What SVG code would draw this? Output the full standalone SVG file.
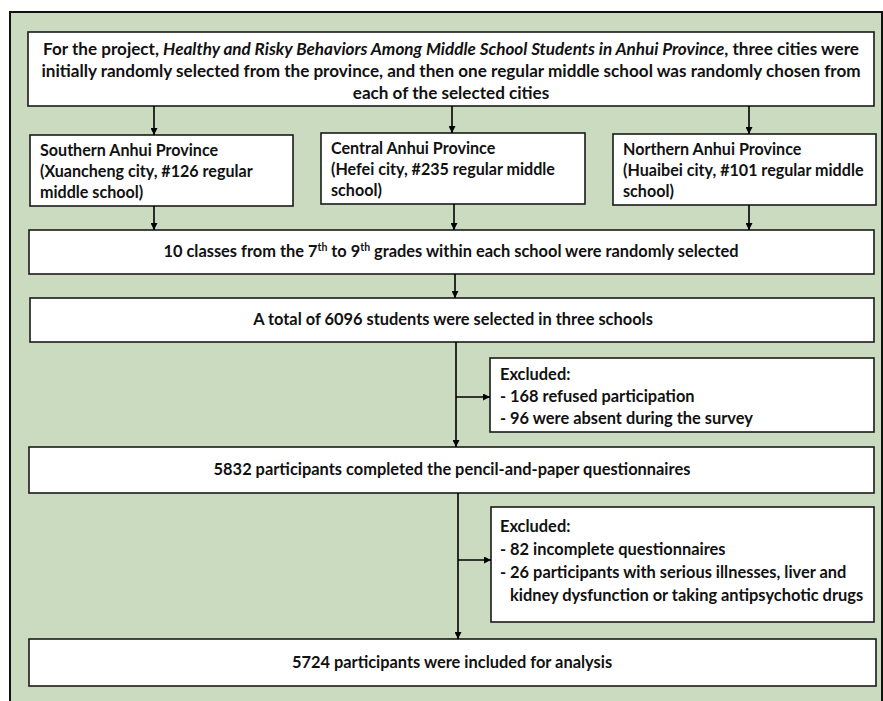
<svg xmlns="http://www.w3.org/2000/svg" width="883" height="701" viewBox="0 0 883 701">
<defs>
<marker id="ah" viewBox="0 0 8 8" refX="8" refY="4" markerWidth="7" markerHeight="7" markerUnits="userSpaceOnUse" orient="auto">
<path d="M0,0 L8,4 L0,8 Z" fill="#000"/>
</marker>
<style>
.bg{fill:#cbdbc0;stroke:#111;stroke-width:2}
.box{fill:#fff;stroke:#1a1a1a;stroke-width:1.6}
.t{font-family:Lato,"Open Sans","Liberation Sans",sans-serif;font-weight:bold;font-size:16.4px;fill:#111}
.top{font-size:17.1px}
.p{font-size:16.1px}
.c{text-anchor:middle}
.con line{stroke:#000;stroke-width:1.6;marker-end:url(#ah)}
</style>
</defs>
<rect class="bg" x="10" y="12" width="872" height="700"/>

<g id="node-top">
<rect class="box" x="28" y="32" width="846" height="74"/>
<text class="t top c" x="451" y="55">For the project, <tspan font-style="italic">Healthy and Risky Behaviors Among Middle School Students in Anhui Province</tspan>, three cities were</text>
<text class="t top c" x="451" y="77">initially randomly selected from the province, and then one regular middle school was randomly chosen from</text>
<text class="t top c" x="451" y="99">each of the selected cities</text>
</g>

<g id="node-south">
<rect class="box" x="30" y="135" width="263" height="71"/>
<text class="t p" x="40" y="156">Southern Anhui Province</text>
<text class="t p" x="40" y="177">(Xuancheng city, #126 regular</text>
<text class="t p" x="40" y="198">middle school)</text>
</g>

<g id="node-central">
<rect class="box" x="321" y="133" width="264" height="71"/>
<text class="t p" x="331" y="154">Central Anhui Province</text>
<text class="t p" x="331" y="175">(Hefei city, #235 regular middle</text>
<text class="t p" x="331" y="196">school)</text>
</g>

<g id="node-north">
<rect class="box" x="613" y="134" width="263" height="71"/>
<text class="t p" x="623" y="155">Northern Anhui Province</text>
<text class="t p" x="623" y="176">(Huaibei city, #101 regular middle</text>
<text class="t p" x="623" y="197">school)</text>
</g>

<g id="node-classes">
<rect class="box" x="29" y="230" width="845" height="44"/>
<text class="t c" x="451" y="257">10 classes from the 7<tspan font-size="10.5" dy="-6">th</tspan><tspan dy="6"> to 9</tspan><tspan font-size="10.5" dy="-6">th</tspan><tspan dy="6"> grades within each school were randomly selected</tspan></text>
</g>

<g id="node-total">
<rect class="box" x="30" y="298" width="844" height="44"/>
<text class="t c" x="453" y="325">A total of 6096 students were selected in three schools</text>
</g>

<g id="node-excl1">
<rect class="box" x="490" y="358" width="384" height="74"/>
<text class="t" x="500" y="380">Excluded:</text>
<text class="t" x="500" y="402">- 168 refused participation</text>
<text class="t" x="500" y="424">- 96 were absent during the survey</text>
</g>

<g id="node-completed">
<rect class="box" x="29" y="447" width="845" height="46"/>
<text class="t c" x="452" y="475">5832 participants completed the pencil-and-paper questionnaires</text>
</g>

<g id="node-excl2">
<rect class="box" x="491" y="507" width="383" height="115"/>
<text class="t" x="500" y="532">Excluded:</text>
<text class="t" x="500" y="555">- 82 incomplete questionnaires</text>
<text class="t" x="500" y="578">- 26 participants with serious illnesses, liver and</text>
<text class="t" x="510" y="601">kidney dysfunction or taking antipsychotic drugs</text>
</g>

<g id="node-final">
<rect class="box" x="29" y="639" width="847" height="47"/>
<text class="t c" x="452" y="668">5724 participants were included for analysis</text>
</g>

<g id="connectors" class="con">
<line x1="154" y1="106" x2="154" y2="135"/>
<line x1="452" y1="106" x2="452" y2="133"/>
<line x1="749" y1="106" x2="749" y2="134"/>
<line x1="154" y1="206" x2="154" y2="230"/>
<line x1="454" y1="204" x2="454" y2="230"/>
<line x1="749" y1="205" x2="749" y2="230"/>
<line x1="455" y1="274" x2="455" y2="298"/>
<line x1="456" y1="342" x2="456" y2="447"/>
<line x1="456" y1="397" x2="490" y2="397"/>
<line x1="458" y1="493" x2="458" y2="639"/>
<line x1="458" y1="560" x2="491" y2="560"/>
</g>
</svg>
